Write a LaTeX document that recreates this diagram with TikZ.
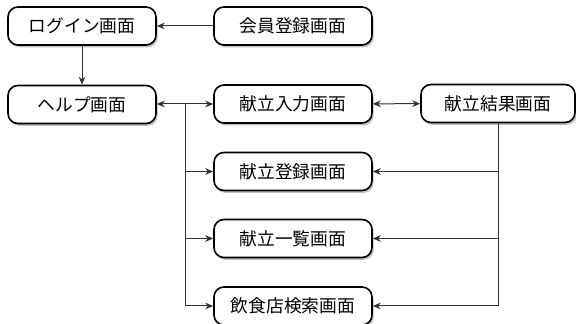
\documentclass[tikz,border=0pt]{standalone}
\usepackage{fontspec}
\setmainfont{Noto Sans CJK JP}
\usetikzlibrary{arrows.meta,shadows}

\tikzset{
  screen/.style={draw=black, line width=1.2pt, fill=white, rounded corners=7.5pt,
    minimum height=28.5pt, inner sep=0pt, font=\fontsize{13.3}{16}\selectfont,
    drop shadow={shadow xshift=1.2pt, shadow yshift=-1.8pt, opacity=0.35, fill=black!70}},
  link/.style={draw=black!80, line width=0.75pt, -{Stealth[length=6pt,width=5pt]}},
  twoway/.style={link, {Stealth[length=6pt,width=5pt]}-{Stealth[length=6pt,width=5pt]}}
}

\begin{document}
\begin{tikzpicture}[x=0.75pt, y=-0.75pt]

% Frame of the picture
\useasboundingbox (0,0) rectangle (576,324);

% Left column
\node[screen, minimum width=111pt] (login) at (82,26) {ログイン画面};
\node[screen, minimum width=111pt] (help) at (82,104.5) {ヘルプ画面};

% Middle column
\node[screen, minimum width=118.5pt] (member) at (293,26) {会員登録画面};
\node[screen, minimum width=118.5pt] (input) at (293,104) {献立入力画面};
\node[screen, minimum width=118.5pt] (register) at (293,171.5) {献立登録画面};
\node[screen, minimum width=118.5pt] (list) at (293,238.5) {献立一覧画面};
\node[screen, minimum width=118.5pt] (shop) at (293,306) {飲食店検索画面};

% Right column
\node[screen, minimum width=115.5pt] (result) at (498,103.5) {献立結果画面};

% Branch point under the help screen link
\coordinate (branch) at (185,104);

% Top links
\draw[link] (member) -- (login);
\draw[link] (login) -- (help);

% Links on the second row
\draw[twoway] (help.east |- branch) -- (input.west |- branch);
\draw[twoway] (input) -- (result);

% Links from the branch point
\draw[link] (branch) |- (register.west);
\draw[link] (branch) |- (list.west);
\draw[link] (branch) |- (shop.west);

% Links from the result screen
\draw[link] (result.south) |- (register.east);
\draw[link] (result.south) |- (list.east);
\draw[link] (result.south) |- (shop.east);

\end{tikzpicture}
\end{document}
